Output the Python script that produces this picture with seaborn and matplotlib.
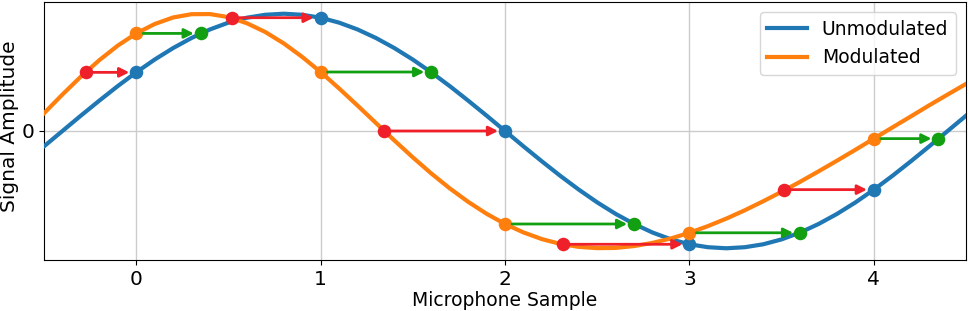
import matplotlib
matplotlib.use("Agg")
import matplotlib.pyplot as plt
import seaborn as sns
import pandas as pd

# curve sample positions (Microphone Sample axis)
x_curve = [-0.5, -0.4, -0.3, -0.2, -0.1, 0.0, 0.1, 0.2, 0.3, 0.4,
           0.5, 0.6, 0.7, 0.8, 0.9, 1.0, 1.1, 1.2, 1.3, 1.4,
           1.5, 1.6, 1.7, 1.8, 1.9, 2.0, 2.1, 2.2, 2.3, 2.4,
           2.5, 2.6, 2.7, 2.8, 2.9, 3.0, 3.1, 3.2, 3.3, 3.4,
           3.5, 3.6, 3.7, 3.8, 3.9, 4.0, 4.1, 4.2, 4.3, 4.4, 4.5]

unmodulated = [-0.131, 0.0, 0.131, 0.259, 0.383, 0.5, 0.609, 0.707, 0.793, 0.866,
               0.924, 0.966, 0.991, 1.0, 0.991, 0.966, 0.924, 0.866, 0.793, 0.707,
               0.609, 0.5, 0.383, 0.259, 0.131, 0.0, -0.131, -0.259, -0.383, -0.5,
               -0.609, -0.707, -0.793, -0.866, -0.924, -0.966, -0.991, -1.0, -0.991, -0.966,
               -0.924, -0.866, -0.793, -0.707, -0.609, -0.5, -0.383, -0.259, -0.131, 0.0, 0.131]

modulated = [0.151, 0.311, 0.464, 0.604, 0.728, 0.832, 0.912, 0.968, 0.996, 0.997,
             0.971, 0.919, 0.844, 0.747, 0.632, 0.503, 0.363, 0.217, 0.068, -0.081,
             -0.225, -0.362, -0.489, -0.604, -0.706, -0.793, -0.865, -0.922, -0.963, -0.988,
             -0.999, -0.997, -0.981, -0.954, -0.916, -0.868, -0.811, -0.747, -0.676, -0.599,
             -0.518, -0.433, -0.344, -0.253, -0.160, -0.065, 0.030, 0.124, 0.219, 0.311, 0.402]

# sampled points
sample_x = [0, 1, 2, 3, 4]
unmod_at_samples = [0.5, 0.966, 0.0, -0.966, -0.5]
mod_at_samples = [0.832, 0.503, -0.793, -0.868, -0.065]
red_x = [-0.27, 0.52, 1.345, 2.313, 3.515]      # on modulated curve, value = unmodulated sample
green_x = [0.35, 1.60, 2.70, 3.60, 4.35]        # on unmodulated curve, value = modulated sample

series_names = ["Unmodulated", "Modulated"]
xtick_vals = [0, 1, 2, 3, 4]
ytick_vals = [0]

BLUE = "#1f77b4"
ORANGE = "#ff7f0e"
RED = "#f0202a"
GREEN = "#12a012"

fig = plt.figure(figsize=(9.69, 3.11), dpi=100)
ax = fig.add_axes([0.0454, 0.164, 0.9516, 0.8296])

df = pd.DataFrame({"x": x_curve + x_curve,
                   "y": unmodulated + modulated,
                   "series": [series_names[0]] * len(x_curve) + [series_names[1]] * len(x_curve)})

sns.lineplot(data=df, x="x", y="y", hue="series", palette=[BLUE, ORANGE],
             linewidth=3, ax=ax, zorder=3)

ms = 95
sns.scatterplot(x=sample_x, y=unmod_at_samples, color=BLUE, s=ms, linewidth=0, ax=ax, zorder=5, legend=False)
sns.scatterplot(x=sample_x, y=mod_at_samples, color=ORANGE, s=ms, linewidth=0, ax=ax, zorder=5, legend=False)
sns.scatterplot(x=red_x, y=unmod_at_samples, color=RED, s=ms, linewidth=0, ax=ax, zorder=5, legend=False)
sns.scatterplot(x=green_x, y=mod_at_samples, color=GREEN, s=ms, linewidth=0, ax=ax, zorder=5, legend=False)

for i in range(len(sample_x)):
    ax.annotate("", xy=(sample_x[i], unmod_at_samples[i]), xytext=(red_x[i], unmod_at_samples[i]),
                arrowprops=dict(arrowstyle="-|>", color=RED, lw=2, shrinkA=5, shrinkB=5,
                                mutation_scale=14), zorder=6)
    ax.annotate("", xy=(green_x[i], mod_at_samples[i]), xytext=(sample_x[i], mod_at_samples[i]),
                arrowprops=dict(arrowstyle="-|>", color=GREEN, lw=2, shrinkA=5, shrinkB=5,
                                mutation_scale=14), zorder=6)

ax.set_xlim(-0.5, 4.5)
ax.set_ylim(-1.1, 1.1)
ax.set_xticks(xtick_vals)
ax.set_yticks(ytick_vals)
ax.tick_params(labelsize=14.5)
ax.grid(True, color="#cccccc", linewidth=1)
ax.set_axisbelow(True)
ax.set_xlabel("Microphone Sample", fontsize=13.5, labelpad=2)
ax.set_ylabel("Signal Amplitude", fontsize=14.5)
ax.yaxis.set_label_coords(-0.027, 0.52)

leg = ax.legend(loc="upper right", fontsize=13.5, handlelength=2.1, borderaxespad=0.55)
for h in leg.get_lines():
    h.set_linewidth(3)

fig.savefig("out.png", dpi=100)
